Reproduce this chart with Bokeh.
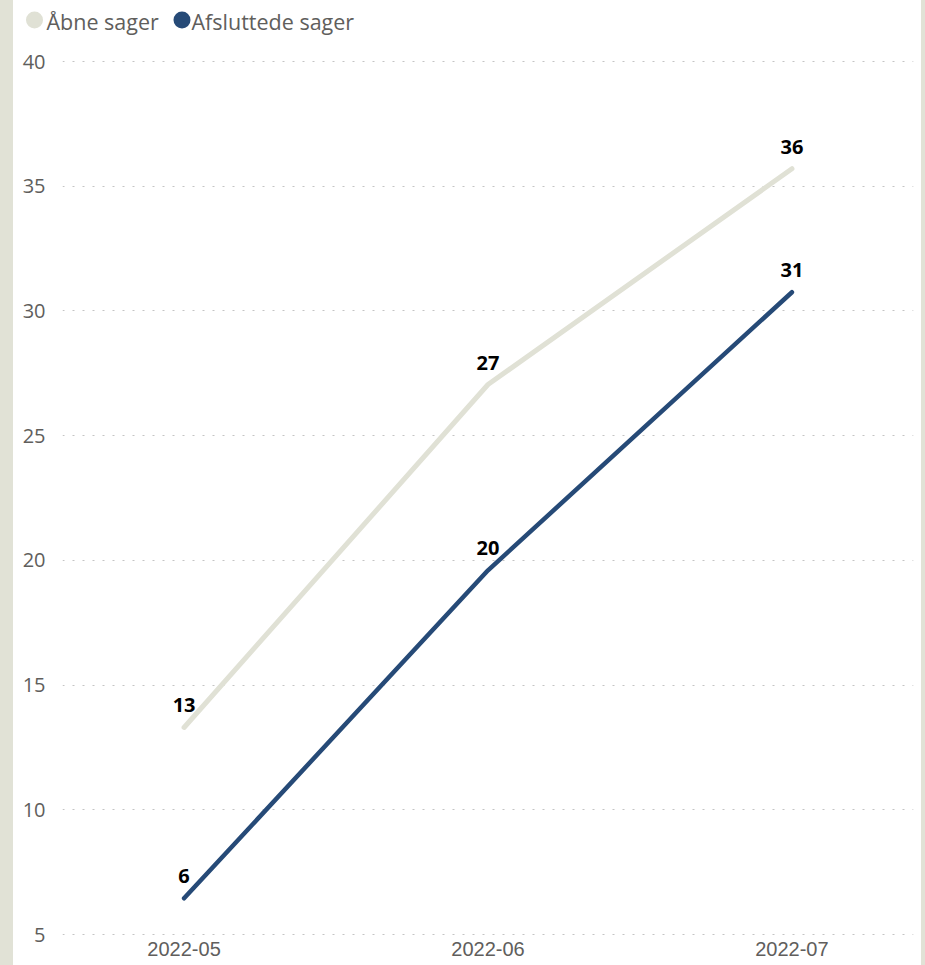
from bokeh.plotting import figure
from bokeh.models import FixedTicker, Range1d
from bokeh.embed import file_html
from bokeh.resources import INLINE
from bokeh.core.properties import value

# ---- data ----
months = ["2022-05", "2022-06", "2022-07"]
aabne_sager = [13.3, 27.05, 35.7]
afsluttede_sager = [6.45, 19.6, 30.75]
series_names = ["Åbne sager", "Afsluttede sager"]
series_colors = ["#E0E1D5", "#264A77"]
y_ticks = [5, 10, 15, 20, 25, 30, 35, 40]

xs = list(range(len(months)))
white = {"background-color": "white"}

# ---- legend strip (its ranges are page pixels) ----
legend_marker_x = [34, 181.5]
legend_label_x = [46, 191]
legend_y = [19.5, 19.5]
legend_label_y = [21, 21]

lf = figure(width=908, height=41, x_range=Range1d(13, 921), y_range=Range1d(41, 0),
            output_backend="svg", toolbar_location=None,
            x_axis_location=None, y_axis_location=None,
            min_border_left=0, min_border_right=0, min_border_top=0, min_border_bottom=0,
            margin=(0, 0, 0, 13), background_fill_color="white", border_fill_color="white",
            styles=white)
lf.outline_line_color = None
lf.grid.visible = False
lf.scatter(x=legend_marker_x, y=legend_y, marker="circle", size=17,
           fill_color=series_colors, line_color=None)
lf.text(x=legend_label_x, y=legend_label_y, text=series_names,
        text_font=value("Open Sans"), text_font_size="21.5px", text_color="#605E5C",
        text_align="left", text_baseline="middle")

# ---- main chart ----
px_per_unit = 873 / 35.0
pad = 1.0 / px_per_unit
p = figure(width=908, height=924, x_range=Range1d(-0.4, 2.4),
           y_range=Range1d(y_ticks[0] - pad, y_ticks[-1] + pad),
           output_backend="svg", toolbar_location=None,
           min_border_left=49, min_border_right=8, min_border_top=19, min_border_bottom=30,
           margin=(0, 0, 0, 13), background_fill_color="white", border_fill_color="white",
           styles=white)
p.outline_line_color = None

p.xaxis.ticker = FixedTicker(ticks=xs)
p.xaxis.major_label_overrides = {i: m for i, m in zip(xs, months)}
p.yaxis.ticker = FixedTicker(ticks=y_ticks)
for ax in (p.xaxis[0], p.yaxis[0]):
    ax.axis_line_color = None
    ax.major_tick_line_color = None
    ax.minor_tick_line_color = None
    ax.major_tick_out = 0
    ax.major_tick_in = 0
    ax.minor_tick_out = 0
    ax.minor_tick_in = 0
    ax.major_label_text_color = "#605E5C"
p.xaxis.major_label_text_font = "Liberation Sans"
p.xaxis.major_label_text_font_size = "20px"
p.xaxis.major_label_standoff = 6
p.yaxis.major_label_text_font = "Open Sans"
p.yaxis.major_label_text_font_size = "20px"
p.yaxis.major_label_standoff = 17

p.xgrid.visible = False
p.ygrid.grid_line_color = "#C4C4C4"
p.ygrid.grid_line_dash = "2 8"
p.ygrid.grid_line_width = 1

p.line(xs, aabne_sager, line_color=series_colors[0], line_width=5,
       line_cap="round", line_join="round")
p.line(xs, afsluttede_sager, line_color=series_colors[1], line_width=4.5,
       line_cap="round", line_join="round")

for vals in (aabne_sager, afsluttede_sager):
    p.text(x=xs, y=vals, text=[str(int(round(v))) for v in vals],
           text_font=value("Open Sans"), text_font_style="bold", text_font_size="20px",
           text_color="#000000", text_align="center", text_baseline="alphabetic",
           y_offset=-22)

html = file_html([lf, p], INLINE, title="Sager")
style = "<style>html,body{margin:0;padding:0;background:#E1E2D6;overflow:hidden;}</style>"
if "<head>" in html:
    html = html.replace("<head>", "<head>" + style, 1)
else:
    html = html.replace("</head>", style + "</head>", 1)
open("out.html", "w").write(html)
